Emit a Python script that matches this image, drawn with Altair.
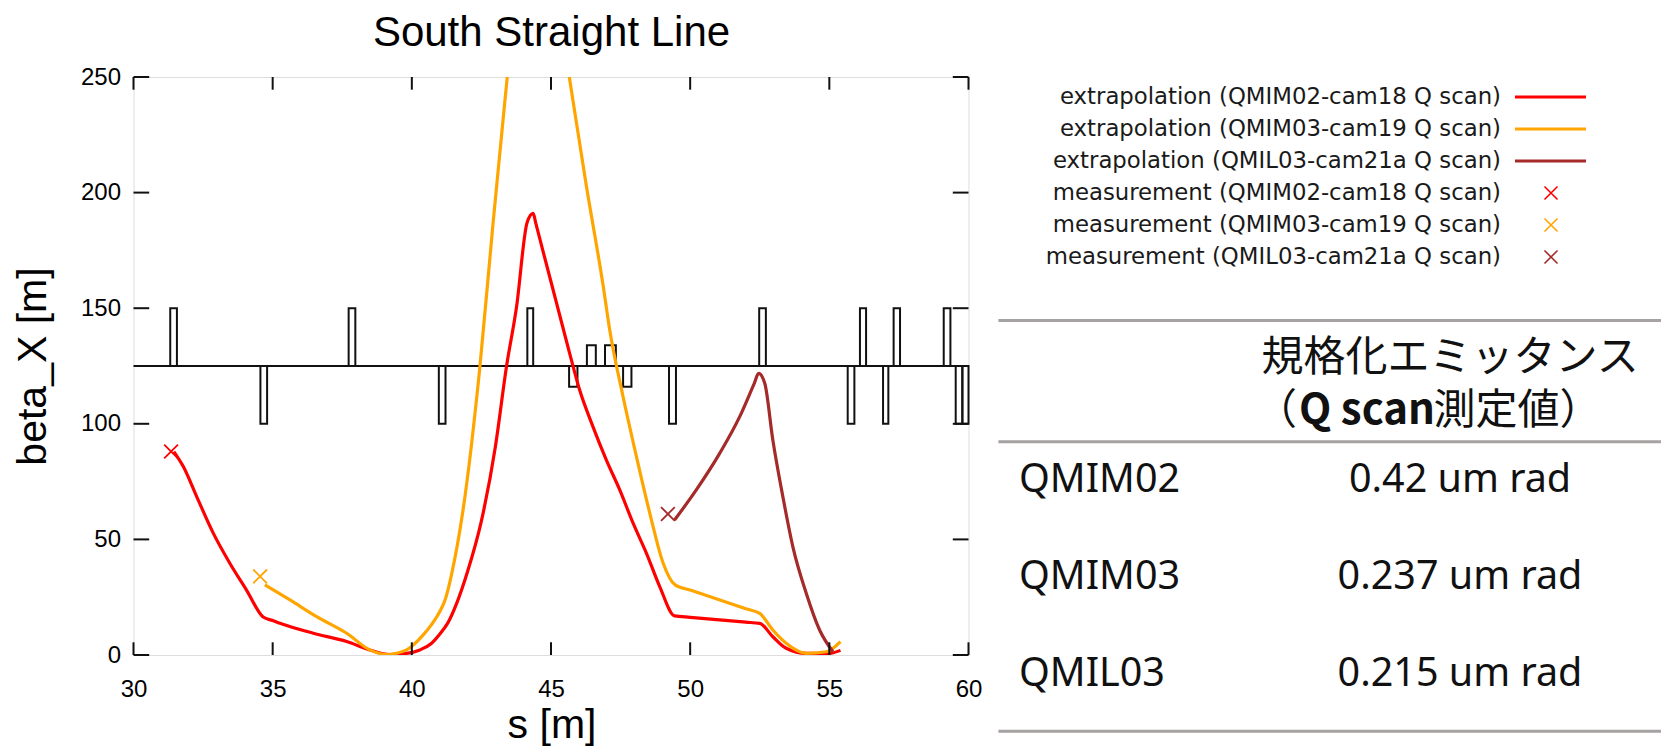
import altair as alt
import pandas as pd

# ---------------- data ----------------
series_names = ["QMIM02-cam18", "QMIM03-cam19", "QMIL03-cam21a"]
series_colors = ["#ff0000", "#ffa500", "#a52a2a"]

red_s = [31.45, 31.79, 32.27, 32.87, 33.46, 34.06, 34.66, 35.00, 35.26, 36.46, 37.66, 38.49,
         39.21, 39.81, 40.29, 40.70, 41.00, 41.30, 41.60, 42.00, 42.50, 43.00, 43.40, 43.76,
         44.14, 44.36, 44.45, 44.71, 45.20, 45.67, 46.03, 46.51, 46.99, 47.47, 47.95, 48.43,
         48.91, 49.44, 50.00, 52.00, 52.50, 52.97, 53.45, 54.17, 55.00, 55.40]
red_b = [88, 81.5, 68.5, 52.6, 39.7, 28.1, 16.4, 14.9, 13.7, 9.4, 5.8, 2.2,
         0.2, 0.7, 2.2, 5, 9, 14, 22, 36, 58, 90, 124.7, 150.4,
         187, 191, 186.9, 174.8, 152.2, 130.5, 114.6, 98.7, 84.3, 71.4, 57.0, 44.0,
         29.5, 16.9, 16.3, 14.2, 13.7, 7.9, 2.9, 0.7, 0.7, 2.0]

orange_s = [34.72, 35.62, 36.58, 37.66, 38.49, 39.09, 39.81, 40.41, 40.70, 41.00, 41.20,
            41.43, 41.84, 42.44, 42.92, 43.42, 43.90, 44.20, 44.36, 44.80, 45.25, 45.67,
            46.27, 46.87, 47.11, 47.59, 48.07, 48.55, 49.03, 49.46, 50.00, 52.00, 52.50,
            52.97, 53.45, 54.17, 54.89, 55.40]
orange_b = [30.3, 23.8, 16.6, 9.4, 2.2, 0.2, 2.2, 8.7, 13, 18.7, 24,
            35, 62.7, 124, 187, 249, 308, 346, 350, 316, 281, 249,
            203, 160, 140.6, 111.7, 85.8, 61.3, 39.7, 30.3, 28.1, 20.0, 18.0,
            10.8, 5.1, 0.7, 1.4, 5.8]

brown_s = [49.44, 50.22, 51.06, 51.78, 52.30, 52.46, 52.68, 52.97, 53.33, 53.69, 54.17,
           54.65, 55.13]
brown_b = [58.4, 71.4, 87.2, 103.1, 117.4, 121.8, 117.5, 93, 68.5, 46.8, 26.7, 10.8, 1.4]

meas_s = [31.35, 34.55, 49.2]
meas_b = [88, 34, 61]

elem_s1 = [31.32, 34.56, 37.73, 40.97, 44.15, 45.65, 46.29, 46.94, 47.59, 49.24,
           52.48, 55.66, 56.10, 56.93, 57.31, 59.11, 59.54, 59.78]
elem_s2 = [31.56, 34.80, 37.97, 41.21, 44.36, 45.95, 46.61, 47.33, 47.89, 49.49,
           52.72, 55.90, 56.32, 57.12, 57.54, 59.35, 59.78, 60.00]
elem_top = [150, 100, 150, 100, 150, 116, 134, 134, 116, 100,
            150, 100, 150, 100, 150, 150, 100, 100]
beam_level = 125
beam_from, beam_to = 30, 60

x_ticks = [30, 35, 40, 45, 50, 55, 60]
y_ticks = [0, 50, 100, 150, 200, 250]

title_text = "South Straight Line"
x_title = "s [m]"
y_title = "beta_X [m]"

legend_labels = [
    "extrapolation (QMIM02-cam18 Q scan)",
    "extrapolation (QMIM03-cam19 Q scan)",
    "extrapolation (QMIL03-cam21a Q scan)",
    "measurement (QMIM02-cam18 Q scan)",
    "measurement (QMIM03-cam19 Q scan)",
    "measurement (QMIL03-cam21a Q scan)",
]
legend_kind = ["line", "line", "line", "meas", "meas", "meas"]

table_names = ["QMIM02", "QMIM03", "QMIL03"]
table_values = ["0.42 um rad", "0.237 um rad", "0.215 um rad"]
header_line1 = "規格化エミッタンス"
header_line2 = ["（", "Q scan", "測定値）"]

# ---------------- styling ----------------
W, H = 835, 578
GN = "Liberation Sans"
INK = "#111111"
XPATH = "M-1,-1L1,1M-1,1L1,-1"

x_axis = alt.Axis(values=x_ticks, format="d", tickSize=0, domain=False, grid=False,
                  labelFont=GN, labelFontSize=24, labelColor="#000", labelPadding=22,
                  labelFlush=False, labelOverlap=False,
                  title=x_title, titleFont=GN, titleFontSize=41, titleFontWeight="normal",
                  titleColor="#000", titleX=418, titleY=82, titleBaseline="alphabetic",
                  titleAlign="center")
y_axis = alt.Axis(values=y_ticks, format="d", tickSize=0, domain=False, grid=False,
                  labelFont=GN, labelFontSize=24, labelColor="#000", labelPadding=13,
                  labelFlush=False, labelOverlap=False,
                  title=y_title, titleFont=GN, titleFontSize=41, titleFontWeight="normal",
                  titleColor="#000", titleAngle=270, titleX=-88, titleY=289,
                  titleBaseline="alphabetic", titleAlign="center")
xsc = alt.Scale(domain=[30, 60], nice=False, zero=False)
ysc = alt.Scale(domain=[0, 250], nice=False, zero=False)
csc = alt.Scale(domain=series_names, range=series_colors)


def X(f):
    return alt.X(f"{f}:Q", scale=xsc, axis=x_axis)


def Y(f):
    return alt.Y(f"{f}:Q", scale=ysc, axis=y_axis)


color_enc = alt.Color("series:N", scale=csc, legend=None)

# ---------------- main plot ----------------
elem_df = pd.DataFrame({"s1": elem_s1, "s2": elem_s2, "top": elem_top,
                        "base": [beam_level] * len(elem_s1)})
elements = alt.Chart(elem_df).mark_rect(filled=False, stroke=INK, strokeWidth=2).encode(
    x=X("s1"), x2=alt.X2("s2:Q"), y=Y("base"), y2=alt.Y2("top:Q"))

beam_df = pd.DataFrame({"s": [beam_from], "s_end": [beam_to], "level": [beam_level]})
beam = alt.Chart(beam_df).mark_rule(color=INK, strokeWidth=2).encode(
    x=X("s"), x2=alt.X2("s_end:Q"), y=Y("level"))

line_layers = []
for name, ss, bb in zip(series_names, [red_s, orange_s, brown_s], [red_b, orange_b, brown_b]):
    df = pd.DataFrame({"s": ss, "beta": bb, "series": name})
    line_layers.append(alt.Chart(df).mark_line(clip=True, strokeWidth=3.2,
                                               interpolate="monotone").encode(
        x=X("s"), y=Y("beta"), color=color_enc))

meas_df = pd.DataFrame({"s": meas_s, "beta": meas_b, "series": series_names})
markers = alt.Chart(meas_df).mark_point(shape=XPATH, size=190, filled=False,
                                        strokeWidth=1.8, opacity=1).encode(
    x=X("s"), y=Y("beta"), color=color_enc)

yt_df = pd.DataFrame({"v": y_ticks})
xt_df = pd.DataFrame({"v": x_ticks})
tick_left = alt.Chart(yt_df).mark_rule(color=INK, strokeWidth=2).encode(
    y=Y("v"), x=alt.value(0), x2=alt.value(15.7))
tick_right = alt.Chart(yt_df).mark_rule(color=INK, strokeWidth=2).encode(
    y=Y("v"), x=alt.value(W - 15.7), x2=alt.value(W))
tick_bottom = alt.Chart(xt_df).mark_rule(color=INK, strokeWidth=2).encode(
    x=X("v"), y=alt.value(H), y2=alt.value(H - 12.7))
tick_top = alt.Chart(xt_df).mark_rule(color=INK, strokeWidth=2).encode(
    x=X("v"), y=alt.value(0), y2=alt.value(12.7))

title = alt.Chart(pd.DataFrame({"t": [title_text]})).mark_text(
    font=GN, fontSize=42, align="center", baseline="alphabetic", color="#000").encode(
    text="t:N", x=alt.value(418), y=alt.value(-31.5))

main = alt.layer(elements, beam, *line_layers, markers,
                 tick_left, tick_right, tick_bottom, tick_top, title)

# ---------------- legend (gnuplot style: text then sample) ----------------
leg_df = pd.DataFrame({"row": list(range(6)), "label": legend_labels,
                       "series": series_names * 2, "kind": legend_kind})
ly = alt.Y("row:Q", scale=alt.Scale(domain=[0, 5], range=[20, 180]), axis=None)
leg_text = alt.Chart(leg_df).mark_text(align="right", baseline="middle", font="DejaVu Sans",
                                       fontSize=22.8, color="#1a1a1a").encode(
    x=alt.value(1367.5), y=ly, text="label:N")
leg_lines = alt.Chart(leg_df).transform_filter(alt.datum.kind == "line").mark_rule(
    strokeWidth=3.2).encode(x=alt.value(1381.5), x2=alt.value(1452.5), y=ly, color=color_enc)
leg_marks = alt.Chart(leg_df).transform_filter(alt.datum.kind == "meas").mark_point(
    shape=XPATH, size=170, filled=False, strokeWidth=1.6, opacity=1).encode(
    x=alt.value(1417.5), y=ly, color=color_enc)
legend = alt.layer(leg_text, leg_lines, leg_marks)

# ---------------- table on the right ----------------
one = pd.DataFrame({"a": [0]})
rule_layers = []
for yv in [243.4, 364.7, 654.2]:
    rule_layers.append(alt.Chart(one).mark_rule(color="#a6a2a2", strokeWidth=3).encode(
        x=alt.value(864.9), x2=alt.value(1527.5), y=alt.value(yv)))

CJK = "Noto Sans CJK JP"
h1 = alt.Chart(pd.DataFrame({"t": [header_line1]})).mark_text(
    align="left", baseline="middle", font=CJK, fontSize=42, color=INK).encode(
    text="t:N", x=alt.value(1128), y=alt.value(281))
h2a = alt.Chart(pd.DataFrame({"t": [header_line2[0]]})).mark_text(
    align="left", baseline="middle", font=CJK, fontSize=42, color=INK).encode(
    text="t:N", x=alt.value(1121.5), y=alt.value(334))
h2b = alt.Chart(pd.DataFrame({"t": [header_line2[1]]})).mark_text(
    align="left", baseline="middle", font=CJK, fontSize=42, fontWeight="bold", color=INK).encode(
    text="t:N", x=alt.value(1165.5), y=alt.value(334))
h2c = alt.Chart(pd.DataFrame({"t": [header_line2[2]]})).mark_text(
    align="left", baseline="middle", font=CJK, fontSize=42, color=INK).encode(
    text="t:N", x=alt.value(1300), y=alt.value(334))

tab_df = pd.DataFrame({"name": table_names, "value": table_values})
ty = alt.Y("name:N", scale=alt.Scale(type="point", domain=table_names, range=[403, 597],
                                     padding=0), axis=None)
names = alt.Chart(tab_df).mark_text(align="left", baseline="middle", font="Noto Sans",
                                    fontSize=39.5, color=INK).encode(
    x=alt.value(885.5), y=ty, text="name:N")
values = alt.Chart(tab_df).mark_text(align="center", baseline="middle", font="Noto Sans",
                                     fontSize=39.5, color=INK).encode(
    x=alt.value(1326.5), y=ty, text="value:N")
table = alt.layer(*rule_layers, h1, h2a, h2b, h2c, names, values)

chart = alt.layer(main, legend, table).resolve_scale(
    x="independent", y="independent"
).properties(
    width=W, height=H,
    padding={"left": 125.5, "top": 69, "right": 692.5, "bottom": 92},
    autosize=alt.AutoSizeParams(type="none"),
).configure_view(stroke=INK, strokeWidth=2).configure(background="white")

chart.save("out.html", embed_options={"renderer": "svg", "actions": False})
